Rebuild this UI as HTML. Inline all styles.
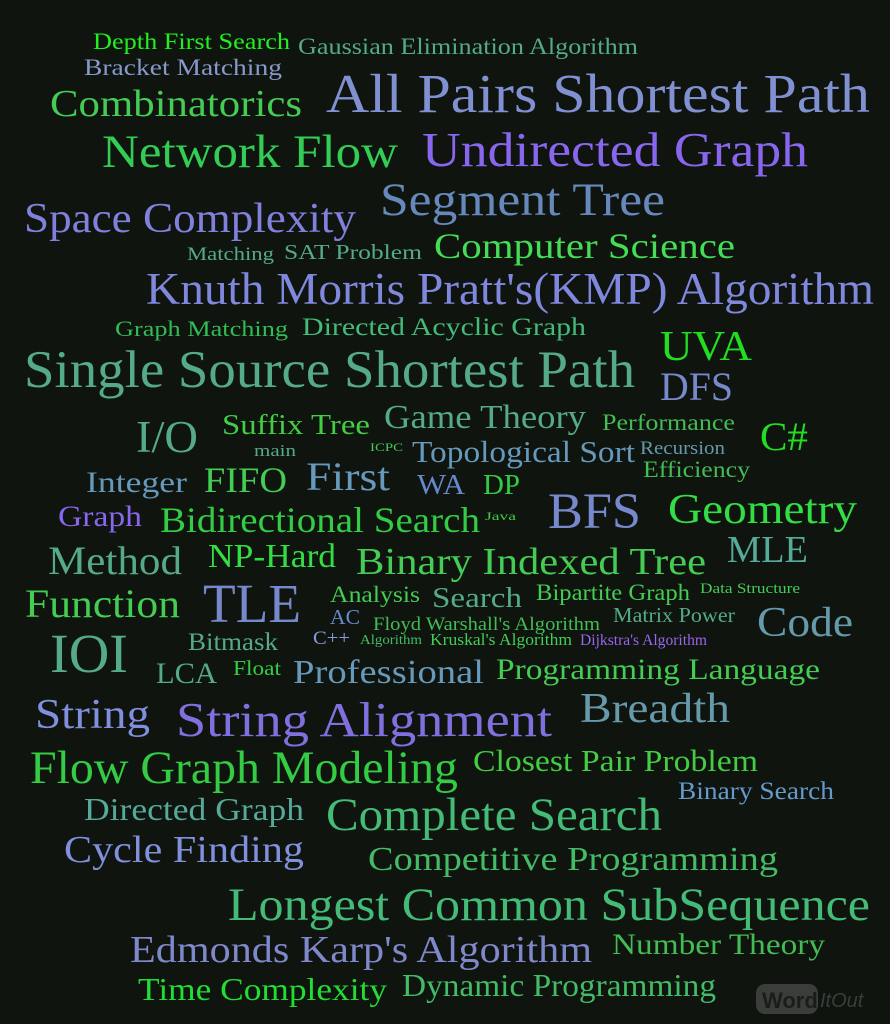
<!DOCTYPE html>
<html><head><meta charset="utf-8"><style>
html,body{margin:0;padding:0;background:#0f140e;}
svg{display:block;font-family:"Liberation Serif",serif;}
</style></head><body>
<svg width="890" height="1024" viewBox="0 0 890 1024">
<rect width="890" height="1024" fill="#0f140e"/>
<g id="words"></g>
<g>
<rect x="756" y="984" width="62" height="30" rx="9" fill="#3a3d3a"/>
<text x="762" y="1008" font-family="Liberation Sans,sans-serif" font-weight="bold" font-size="22" fill="#1a1d1a">Word</text>
<text x="820" y="1007" font-family="Liberation Sans,sans-serif" font-style="italic" font-size="20" fill="#3a3d3a">ItOut</text>
</g>
</svg>
<script>
const words=["Depth First Search","Gaussian Elimination Algorithm","Bracket Matching","Combinatorics","All Pairs Shortest Path","Network Flow","Undirected Graph","Space Complexity","Segment Tree","Matching","SAT Problem","Computer Science","Knuth Morris Pratt's(KMP) Algorithm","Graph Matching","Directed Acyclic Graph","Single Source Shortest Path","UVA","DFS","I/O","Suffix Tree","Game Theory","Performance","main","ICPC","Topological Sort","Recursion","C#","Efficiency","Integer","FIFO","First","WA","DP","Java","BFS","Geometry","Graph","Bidirectional Search","Method","NP-Hard","Binary Indexed Tree","MLE","Function","TLE","Analysis","Search","Bipartite Graph","Data Structure","AC","Floyd Warshall's Algorithm","Matrix Power","Code","IOI","Bitmask","C++","Algorithm","Kruskal's Algorithm","Dijkstra's Algorithm","LCA","Float","Professional","Programming Language","String","String Alignment","Breadth","Flow Graph Modeling","Closest Pair Problem","Binary Search","Directed Graph","Complete Search","Cycle Finding","Competitive Programming","Longest Common SubSequence","Edmonds Karp's Algorithm","Number Theory","Time Complexity","Dynamic Programming"];
const xs=[93,298,84,50,326,102,422,24,380,187,284,434,146,115,302,24,660,660,136,222,384,602,254,370,412,640,760,643,86,204,306,417,483,485,548,668,58,160,48,208,356,727,25,203,330,432,536,700,330,373,613,757,50,188,313,360,430,580,156,233,293,496,35,176,580,30,473,678,84,326,64,368,228,130,612,138,402];
const xe=[290,638,282,302,870,398,808,356,665,274,422,735,874,288,586,635,752,733,198,370,586,735,296,403,635,725,808,750,187,287,390,465,520,516,641,857,142,480,182,336,706,808,180,301,420,522,690,800,360,600,735,853,128,278,350,422,572,707,217,281,484,820,150,552,730,458,758,834,304,662,304,778,870,592,825,387,716];
const ys=[49,54,75,116,112,167,166,232,215,260,259,258,304,336,335,387,360,400,452,434,428,430,456,451,462,454,450,477,492,492,490,494,494,520,528,523,526,532,574,567,574,562,617,622,602,607,600,593,624,630,622,636,672,650,644,644,645,645,683,675,683,679,728,736,722,783,771,799,820,830,862,870,920,962,954,1000,996];
const sizes=[23,23,23,38,55,47,49,42,47,19,21,36,45,22,25,53,42,40,45,29,34,23,17,12,31,19,40,23,30,36,40,28,28,12,51,42,30,36,40,34,38,38,40,55,23,29,23,15,21,19,21,42,55,25,19,14,17,16,30,21,34,30,42,49,42,47,31,25,32,47,38,34,47,38,30,32,32];
const cols=["#22ee22","#55aa88","#8899cc","#44cc55","#8090d0","#33cc55","#8866ee","#8080dd","#6688bb","#55aa88","#55aa88","#44dd55","#8088dd","#33bb55","#44bb77","#55aa88","#22dd22","#7788cc","#55aa88","#44cc44","#55aa88","#44bb55","#55aa88","#44cc55","#6699bb","#6699aa","#22dd22","#44bb55","#6699bb","#44cc55","#6699bb","#6688cc","#33cc44","#44cc44","#7788cc","#33dd44","#8866ee","#33cc44","#55aa88","#33dd44","#44cc55","#55aa99","#44cc55","#7788cc","#44cc55","#55aa88","#44cc55","#44cc55","#6688cc","#44bb55","#55aa88","#6699aa","#55aa88","#55aa88","#8899dd","#44bb66","#44cc55","#9966ee","#55aa88","#33cc44","#6699bb","#44cc55","#8090dd","#8070dd","#6699aa","#33cc44","#44cc44","#6699cc","#55aa99","#44bb77","#8090dd","#44bb66","#44bb77","#8088cc","#44bb55","#22dd33","#44bb66"];
const g=document.getElementById('words');
words.forEach((w,i)=>{
  const t=document.createElementNS('http://www.w3.org/2000/svg','text');
  t.setAttribute('x',xs[i]);t.setAttribute('y',ys[i]);
  t.setAttribute('font-size',sizes[i]);t.setAttribute('fill',cols[i]);
  t.setAttribute('textLength',xe[i]-xs[i]);t.setAttribute('lengthAdjust','spacingAndGlyphs');
  
  
  t.textContent=w;g.appendChild(t);
});
</script>
</body></html>
